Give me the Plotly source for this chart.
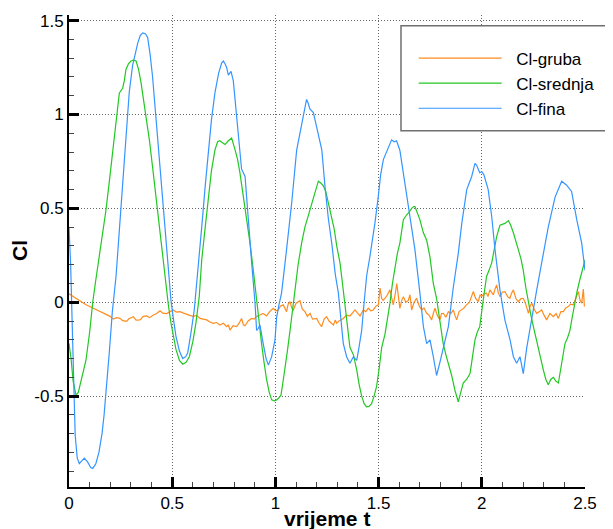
import plotly.graph_objects as go

# ---------------- data ----------------
gruba_pts = [
    (0.0, 0.045), (0.02, 0.03), (0.053, 0.005), (0.08, -0.012), (0.118, -0.032),
    (0.15, -0.05), (0.18, -0.065), (0.199, -0.075), (0.215, -0.09), (0.23, -0.082),
    (0.247, -0.086), (0.26, -0.098), (0.279, -0.102), (0.29, -0.088), (0.312, -0.077),
    (0.325, -0.095), (0.344, -0.094), (0.36, -0.075), (0.376, -0.073), (0.39, -0.082),
    (0.409, -0.068), (0.425, -0.06), (0.441, -0.045), (0.455, -0.058), (0.473, -0.06),
    (0.49, -0.048), (0.505, -0.041), (0.52, -0.052), (0.538, -0.05), (0.555, -0.058),
    (0.57, -0.062), (0.585, -0.07), (0.602, -0.075), (0.618, -0.07), (0.635, -0.086),
    (0.652, -0.09), (0.667, -0.094), (0.683, -0.105), (0.699, -0.112), (0.715, -0.108),
    (0.731, -0.121), (0.748, -0.112), (0.764, -0.13), (0.772, -0.12), (0.78, -0.148),
    (0.795, -0.125), (0.812, -0.13), (0.825, -0.11), (0.836, -0.086), (0.845, -0.12),
    (0.853, -0.125), (0.868, -0.1), (0.885, -0.086), (0.897, -0.09), (0.909, -0.075),
    (0.925, -0.068), (0.94, -0.06), (0.957, -0.073), (0.972, -0.05), (0.99, -0.032),
    (1.002, -0.045), (1.014, -0.041), (1.025, -0.02), (1.038, -0.014), (1.046, -0.035),
    (1.054, -0.05), (1.062, -0.01), (1.071, 0.003), (1.079, -0.03), (1.087, -0.041),
    (1.1, -0.005), (1.119, 0.008), (1.13, -0.035), (1.143, -0.05), (1.155, -0.075),
    (1.168, -0.059), (1.18, -0.09), (1.2, -0.086), (1.212, -0.112), (1.224, -0.13),
    (1.236, -0.09), (1.248, -0.077), (1.26, -0.1), (1.281, -0.121), (1.29, -0.095),
    (1.297, -0.112), (1.31, -0.098), (1.329, -0.086), (1.345, -0.068), (1.361, -0.073),
    (1.375, -0.055), (1.386, -0.041), (1.4, -0.06), (1.41, -0.073), (1.426, -0.041),
    (1.438, -0.05), (1.45, -0.032), (1.462, -0.045), (1.474, -0.041), (1.488, -0.02),
    (1.499, -0.014), (1.507, 0.075), (1.515, 0.02), (1.522, 0.01), (1.531, 0.021),
    (1.543, 0.04), (1.555, 0.066), (1.563, 0.03), (1.571, -0.014), (1.58, 0.04),
    (1.588, 0.1), (1.596, 0.03), (1.603, -0.032), (1.612, 0.01), (1.62, 0.03),
    (1.632, 0.0), (1.644, 0.01), (1.652, 0.04), (1.66, -0.041), (1.672, 0.0),
    (1.684, 0.021), (1.697, -0.02), (1.709, -0.041), (1.72, -0.03), (1.733, -0.059),
    (1.745, -0.07), (1.757, -0.094), (1.765, -0.06), (1.773, -0.032), (1.785, -0.07),
    (1.797, -0.094), (1.805, -0.06), (1.814, -0.059), (1.826, -0.08), (1.838, -0.05),
    (1.85, -0.06), (1.862, -0.041), (1.87, -0.07), (1.878, -0.094), (1.89, -0.05),
    (1.902, -0.041), (1.914, -0.03), (1.926, -0.014), (1.94, 0.0), (1.959, 0.057),
    (1.97, 0.02), (1.983, 0.003), (1.992, 0.04), (1.999, 0.03), (2.01, 0.045),
    (2.023, 0.048), (2.03, 0.03), (2.039, 0.066), (2.048, 0.05), (2.056, 0.039),
    (2.064, 0.07), (2.072, 0.092), (2.08, 0.05), (2.088, 0.03), (2.1, 0.055),
    (2.112, 0.057), (2.125, 0.03), (2.136, 0.021), (2.145, 0.05), (2.153, 0.066),
    (2.165, 0.02), (2.177, 0.003), (2.19, 0.02), (2.201, 0.021), (2.213, -0.01),
    (2.226, -0.059), (2.234, -0.02), (2.242, -0.005), (2.255, -0.04), (2.266, -0.059),
    (2.278, -0.05), (2.29, -0.041), (2.302, -0.07), (2.314, -0.094), (2.33, -0.06),
    (2.347, -0.077), (2.36, -0.06), (2.371, -0.086), (2.383, -0.05), (2.395, -0.05),
    (2.407, -0.03), (2.419, -0.023), (2.43, -0.01), (2.443, -0.014), (2.455, 0.02),
    (2.468, 0.057), (2.476, 0.01), (2.484, -0.005), (2.492, 0.07), (2.497, -0.023),
]

srednja_pts = [
    (0.0, -0.22), (0.01, -0.3), (0.02, -0.42), (0.034, -0.495), (0.045, -0.48),
    (0.06, -0.41), (0.082, -0.31), (0.1, -0.16), (0.115, 0.0), (0.13, 0.12),
    (0.147, 0.24), (0.163, 0.36), (0.179, 0.49), (0.195, 0.64), (0.212, 0.795),
    (0.228, 0.96), (0.244, 1.115), (0.26, 1.14), (0.268, 1.18), (0.276, 1.24),
    (0.288, 1.27), (0.3, 1.285), (0.312, 1.29), (0.325, 1.285), (0.337, 1.24),
    (0.349, 1.17), (0.361, 1.08), (0.373, 0.99), (0.39, 0.86), (0.405, 0.72),
    (0.42, 0.57), (0.4375, 0.4), (0.455, 0.24), (0.47, 0.08), (0.482, -0.02),
    (0.494, -0.11), (0.506, -0.19), (0.518, -0.25), (0.535, -0.31), (0.551, -0.33),
    (0.567, -0.32), (0.583, -0.29), (0.6, -0.21), (0.615, -0.11), (0.631, 0.03),
    (0.643, 0.225), (0.66, 0.4), (0.675, 0.55), (0.69, 0.7), (0.707, 0.81),
    (0.72, 0.855), (0.73, 0.86), (0.745, 0.85), (0.756, 0.84), (0.772, 0.86),
    (0.788, 0.875), (0.805, 0.81), (0.817, 0.76), (0.828, 0.69), (0.84, 0.6),
    (0.853, 0.51), (0.865, 0.41), (0.877, 0.315), (0.893, 0.17), (0.909, 0.0),
    (0.921, -0.11), (0.933, -0.22), (0.945, -0.32), (0.957, -0.41), (0.97, -0.48),
    (0.982, -0.52), (0.995, -0.525), (1.006, -0.52), (1.016, -0.51), (1.027, -0.495),
    (1.036, -0.43), (1.046, -0.36), (1.058, -0.26), (1.071, -0.15), (1.083, -0.04),
    (1.095, 0.08), (1.11, 0.2), (1.127, 0.315), (1.143, 0.4), (1.159, 0.46),
    (1.172, 0.51), (1.184, 0.55), (1.196, 0.6), (1.208, 0.645), (1.22, 0.635),
    (1.232, 0.62), (1.244, 0.59), (1.256, 0.53), (1.273, 0.457), (1.285, 0.39),
    (1.297, 0.3), (1.313, 0.21), (1.325, 0.1), (1.337, -0.005), (1.349, -0.12),
    (1.361, -0.24), (1.378, -0.28), (1.394, -0.36), (1.406, -0.44), (1.418, -0.5),
    (1.43, -0.54), (1.442, -0.557), (1.454, -0.555), (1.466, -0.54), (1.478, -0.5),
    (1.49, -0.45), (1.503, -0.35), (1.515, -0.24), (1.531, -0.17), (1.543, -0.09),
    (1.555, -0.005), (1.567, 0.1), (1.579, 0.19), (1.591, 0.26), (1.603, 0.315),
    (1.612, 0.38), (1.62, 0.44), (1.636, 0.466), (1.648, 0.48), (1.66, 0.5),
    (1.67, 0.51), (1.676, 0.51), (1.688, 0.48), (1.7, 0.44), (1.717, 0.37),
    (1.733, 0.33), (1.749, 0.24), (1.765, 0.1), (1.781, 0.02), (1.797, -0.11),
    (1.813, -0.22), (1.826, -0.28), (1.838, -0.325), (1.854, -0.39), (1.87, -0.47),
    (1.878, -0.5), (1.886, -0.53), (1.898, -0.48), (1.91, -0.43), (1.927, -0.41),
    (1.943, -0.38), (1.955, -0.29), (1.967, -0.2), (1.978, -0.16), (1.99, -0.13),
    (2.007, 0.012), (2.023, 0.137), (2.035, 0.17), (2.048, 0.21), (2.06, 0.28),
    (2.072, 0.35), (2.088, 0.41), (2.1, 0.415), (2.112, 0.42), (2.129, 0.435),
    (2.14, 0.41), (2.153, 0.37), (2.165, 0.33), (2.177, 0.28), (2.19, 0.23),
    (2.201, 0.17), (2.213, 0.08), (2.226, -0.005), (2.238, -0.07), (2.25, -0.13),
    (2.262, -0.19), (2.274, -0.255), (2.286, -0.31), (2.298, -0.36), (2.31, -0.41),
    (2.322, -0.44), (2.335, -0.41), (2.347, -0.4), (2.359, -0.42), (2.371, -0.43),
    (2.387, -0.325), (2.403, -0.22), (2.415, -0.19), (2.427, -0.15), (2.438, -0.08),
    (2.45, 0.0), (2.462, 0.06), (2.475, 0.12), (2.488, 0.17), (2.5, 0.225),
]

fina_pts = [
    (0.0, 0.4), (0.008, 0.2), (0.018, -0.22), (0.03, -0.71), (0.04, -0.83),
    (0.05, -0.86), (0.062, -0.845), (0.074, -0.83), (0.09, -0.85), (0.105, -0.88),
    (0.115, -0.885), (0.13, -0.86), (0.145, -0.8), (0.16, -0.7), (0.17, -0.6),
    (0.18, -0.48), (0.195, -0.27), (0.21, -0.05), (0.228, 0.14), (0.245, 0.4),
    (0.26, 0.64), (0.276, 0.9), (0.292, 1.12), (0.308, 1.26), (0.32, 1.32),
    (0.333, 1.38), (0.345, 1.42), (0.357, 1.435), (0.37, 1.43), (0.381, 1.41),
    (0.393, 1.32), (0.405, 1.2), (0.42, 1.0), (0.4375, 0.76), (0.455, 0.53),
    (0.47, 0.32), (0.482, 0.15), (0.494, 0.01), (0.506, -0.09), (0.518, -0.18),
    (0.535, -0.26), (0.551, -0.3), (0.565, -0.29), (0.575, -0.27), (0.59, -0.17),
    (0.607, -0.04), (0.62, 0.12), (0.631, 0.24), (0.643, 0.4), (0.66, 0.62),
    (0.675, 0.81), (0.69, 0.97), (0.707, 1.115), (0.725, 1.22), (0.74, 1.275),
    (0.748, 1.285), (0.756, 1.27), (0.764, 1.25), (0.772, 1.21), (0.785, 1.23),
    (0.796, 1.18), (0.805, 1.08), (0.812, 0.97), (0.825, 0.82), (0.836, 0.71),
    (0.853, 0.67), (0.869, 0.42), (0.885, 0.21), (0.901, 0.0), (0.909, -0.15),
    (0.917, -0.14), (0.925, -0.12), (0.941, -0.22), (0.955, -0.3), (0.966, -0.335),
    (0.982, -0.29), (0.998, -0.2), (1.006, -0.08), (1.018, -0.01), (1.03, 0.05),
    (1.054, 0.28), (1.079, 0.53), (1.103, 0.81), (1.115, 0.88), (1.127, 0.94),
    (1.14, 1.02), (1.151, 1.08), (1.159, 1.06), (1.167, 1.03), (1.184, 1.01),
    (1.196, 0.95), (1.208, 0.9), (1.225, 0.81), (1.24, 0.62), (1.256, 0.45),
    (1.273, 0.315), (1.29, 0.15), (1.305, 0.05), (1.318, -0.08), (1.329, -0.22),
    (1.345, -0.29), (1.361, -0.325), (1.378, -0.29), (1.394, -0.31), (1.405, -0.24),
    (1.418, -0.15), (1.43, 0.0), (1.442, 0.14), (1.458, 0.245), (1.47, 0.33),
    (1.482, 0.42), (1.498, 0.56), (1.51, 0.68), (1.523, 0.76), (1.539, 0.8),
    (1.55, 0.83), (1.563, 0.865), (1.575, 0.855), (1.587, 0.86), (1.603, 0.81),
    (1.615, 0.72), (1.628, 0.635), (1.652, 0.457), (1.676, 0.28), (1.7, 0.05),
    (1.717, -0.13), (1.733, -0.22), (1.749, -0.2), (1.765, -0.29), (1.781, -0.39),
    (1.797, -0.32), (1.813, -0.24), (1.826, -0.19), (1.838, -0.13), (1.862, 0.08),
    (1.886, 0.26), (1.903, 0.42), (1.927, 0.6), (1.951, 0.67), (1.967, 0.74),
    (1.975, 0.73), (1.99, 0.69), (2.0, 0.695), (2.01, 0.68), (2.031, 0.6),
    (2.048, 0.457), (2.064, 0.28), (2.088, 0.065), (2.112, -0.095), (2.137, -0.2),
    (2.153, -0.29), (2.169, -0.325), (2.185, -0.29), (2.201, -0.38), (2.218, -0.24),
    (2.242, -0.077), (2.266, 0.065), (2.29, 0.21), (2.322, 0.4), (2.355, 0.56),
    (2.387, 0.645), (2.41, 0.625), (2.435, 0.59), (2.46, 0.44), (2.484, 0.315),
    (2.5, 0.17),
]

series_names = ["Cl-gruba", "Cl-srednja", "Cl-fina"]
series_colors = ["#FF8C1E", "#22C822", "#3595FF"]

x_tickvals = [0, 0.5, 1, 1.5, 2, 2.5]
x_ticktext = ["0", "0.5", "1", "1.5", "2", "2.5"]
y_tickvals = [-0.5, 0, 0.5, 1, 1.5]
y_ticktext = ["-0.5", "0", "0.5", "1", "1.5"]

x_title = "vrijeme t"
y_title = "Cl"

# ---------------- figure ----------------
FONT = "Arial, 'Liberation Sans', sans-serif"
NB = "\u00a0\u00a0"
fig = go.Figure()
for pts, name, col in zip([gruba_pts, srednja_pts, fina_pts], series_names, series_colors):
    xs = [p[0] for p in pts]
    ys = [p[1] for p in pts]
    fig.add_trace(go.Scatter(x=xs, y=ys, mode="lines", name=NB + name,
                             line=dict(color=col, width=1.2)))

axis_common = dict(
    showline=True, linecolor="black", linewidth=2, mirror=False,
    ticks="inside", ticklen=10, tickwidth=2.5, tickcolor="black",
    showgrid=True, gridcolor="#666666", griddash="1px,2px", gridwidth=1,
    zeroline=False, automargin=False,
    tickfont=dict(family=FONT, size=17, color="black"),
    minor=dict(dtick=0.1, ticks="inside", ticklen=5, tickwidth=1,
               tickcolor="#444444", showgrid=False),
)

fig.update_xaxes(range=[0, 2.5], tickvals=x_tickvals, ticktext=x_ticktext, **axis_common)
fig.update_yaxes(range=[-0.984, 1.53], tickvals=y_tickvals, ticktext=y_ticktext, **axis_common)

# axis titles
fig.add_annotation(text="<b>%s</b>" % x_title, xref="paper", yref="paper",
                   x=0.5, y=0, xanchor="center", yanchor="middle", yshift=-31,
                   showarrow=False, font=dict(family=FONT, size=21, color="black"))
fig.add_annotation(text="<b>%s</b>" % y_title, xref="paper", yref="paper",
                   x=0, y=0.5, xanchor="center", yanchor="middle", xshift=-50,
                   textangle=-90, showarrow=False,
                   font=dict(family=FONT, size=21, color="black"))

# legend frame
fig.add_shape(type="rect", xref="paper", yref="paper",
              x0=0.6434, x1=1.0523, y0=0.755, y1=0.977,
              line=dict(color="#707070", width=1.5), fillcolor="white", layer="above")

# page body adds an 8px offset, margins compensate for it
fig.update_layout(
    width=613, height=529,
    margin=dict(l=61, r=36, t=7, b=50, autoexpand=False),
    plot_bgcolor="white", paper_bgcolor="white",
    showlegend=True,
    legend=dict(x=0.668, y=0.946, xanchor="left", yanchor="top",
                bgcolor="rgba(0,0,0,0)", borderwidth=0,
                font=dict(family=FONT, size=17, color="black"),
                itemwidth=83, tracegroupgap=0),
)

fig.write_html("out.html")
